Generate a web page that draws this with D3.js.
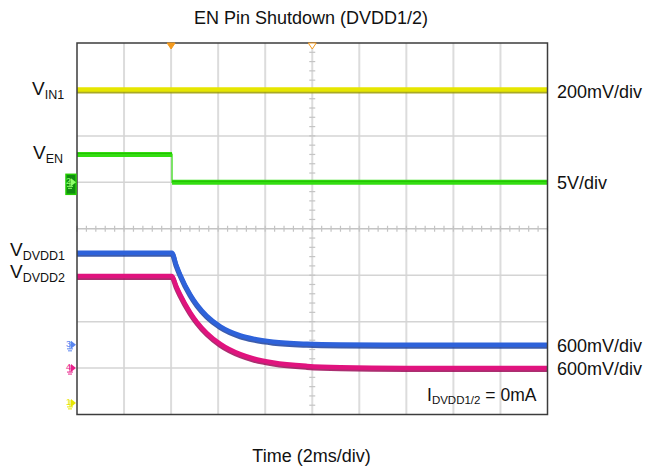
<!DOCTYPE html>
<html><head><meta charset="utf-8">
<script src="https://cdn.jsdelivr.net/npm/d3@7"></script>
<style>
html,body{margin:0;padding:0;background:#fff;}
text{font-family:"Liberation Sans",Arial,sans-serif;fill:#111;}
</style></head>
<body><svg id="c" width="645" height="469"></svg>
<script>
// ---- data (time in ms, voltages in V) ----
const title = "EN Pin Shutdown (DVDD1/2)";
const xLabel = "Time (2ms/div)";
const triggerTime = 4;
const vinTime = [0, 20];
const vinValues = [1.35, 1.35];
const enTime = [0, 4.04, 4.04, 20];
const enValues = [3.0, 3.0, 0, 0];
const dvddTime = [0, 4.04, 4.21, 4.38, 4.81, 5.1, 5.52, 6.09, 6.94, 7.5, 8.34, 9.78, 11.2, 14, 20];
const dvdd1Values = [1.19, 1.19, 1.041, 0.912, 0.653, 0.52, 0.375, 0.24, 0.123, 0.08, 0.041, 0.013, 0.004, 0, 0];
const dvdd2Values = [1.19, 1.19, 1.065, 0.953, 0.72, 0.595, 0.452, 0.312, 0.179, 0.124, 0.072, 0.028, 0.011, 0.002, 0];
const channelNames = ["IN1", "EN", "DVDD1", "DVDD2"];
const channelScales = ["200mV/div", "5V/div", "600mV/div", "600mV/div"];
const voltsPerDiv = [0.2, 5, 0.6, 0.6];
const groundDiv = [-3.75, 1.0, -2.5, -3.0];
const loadNote = ["I", "DVDD1/2", " = 0mA"];

// ---- layout ----
const svg = d3.select("#c");
const L = 77, R = 547.5, T = 43, B = 414.5;
const x = d3.scaleLinear().domain([0, 20]).range([L, R]);
const y = d3.scaleLinear().domain([-4, 4]).range([B, T]);
const colors = ["#e6e600", "#33dd11", "#2e62da", "#e0137e"];
const darks = ["#9a9a00", "#1f9e08", "#1b3f9e", "#9c0a57"];

// grid
const g = svg.append("g");
d3.range(1, 10).forEach(i => {
  g.append("line").attr("x1", x(i*2)).attr("x2", x(i*2)).attr("y1", T).attr("y2", B)
    .attr("stroke", "#dcdcdc").attr("stroke-width", 2);
});
d3.range(-3, 4).forEach(i => {
  g.append("line").attr("x1", L).attr("x2", R).attr("y1", y(i)).attr("y2", y(i))
    .attr("stroke", i === 0 ? "#c4c4c4" : "#d4d4d4").attr("stroke-width", 1.5);
});
// minor ticks on centre axes
d3.range(0, 50.001, 1).forEach(k => {
  const t = k * 0.4;
  g.append("line").attr("x1", x(t)).attr("x2", x(t)).attr("y1", y(0) - 3).attr("y2", y(0) + 3)
    .attr("stroke", "#c4c4c4").attr("stroke-width", 1.2);
});
d3.range(-4, 4.001, 0.2).forEach(d => {
  g.append("line").attr("x1", x(10) - 3).attr("x2", x(10) + 3).attr("y1", y(d)).attr("y2", y(d))
    .attr("stroke", "#c4c4c4").attr("stroke-width", 1.2);
});

// traces
const traces = [
  [vinTime, vinValues], [enTime, enValues], [dvddTime, dvdd1Values], [dvddTime, dvdd2Values]
];
svg.append("clipPath").attr("id", "pc").append("rect")
  .attr("x", L).attr("y", T).attr("width", R - L).attr("height", B - T);
const tg = svg.append("g").attr("clip-path", "url(#pc)");
traces.forEach((tr, ci) => {
  const pts = tr[0].map((t, i) => [t, groundDiv[ci] + tr[1][i] / voltsPerDiv[ci]]);
  const curve = ci >= 2 ? d3.curveMonotoneX : d3.curveLinear;
  const line = d3.line().x(d => x(d[0])).y(d => y(d[1])).curve(curve);
  if (ci !== 1) {
    tg.append("path").attr("d", line(pts)).attr("fill", "none")
      .attr("stroke", darks[ci]).attr("stroke-width", 5)
      .attr("transform", "translate(0,1.5)").attr("opacity", 0.85);
  }
  tg.append("path").attr("d", line(pts)).attr("fill", "none")
    .attr("stroke", colors[ci]).attr("stroke-width", ci === 1 ? 1.2 : 4.5);
  if (ci === 1) {
    const segs = [[0, 4.04, enValues[0]], [4.04, 20, enValues[3]]];
    segs.forEach(s => {
      const yy = y(groundDiv[ci] + s[2] / voltsPerDiv[ci]);
      tg.append("line").attr("x1", x(s[0])).attr("x2", x(s[1])).attr("y1", yy).attr("y2", yy)
        .attr("stroke", colors[ci]).attr("stroke-width", 5);
      tg.append("line").attr("x1", x(s[0])).attr("x2", x(s[1])).attr("y1", yy - 1).attr("y2", yy - 1)
        .attr("stroke", "#22c000").attr("stroke-width", 1);
    });
  }
});

// frame
svg.append("rect").attr("x", L).attr("y", T).attr("width", R - L).attr("height", B - T)
  .attr("fill", "none").attr("stroke", "#3c3c3c").attr("stroke-width", 1.5);

// trigger markers
const tri = (cx, filled) => svg.append("path")
  .attr("d", `M${cx - 4},${T} L${cx + 4},${T} L${cx},${T + 6} Z`)
  .attr("fill", filled ? "#f39a1e" : "#fff").attr("stroke", "#f39a1e").attr("stroke-width", 1);
tri(x(triggerTime), true);
tri(x(10), false);

// channel ground markers
const markerNums = ["1", "2", "3", "4"];
const markerColors = ["#e6e600", "#22cc00", "#5a86f0", "#e8218a"];
groundDiv.forEach((gd, ci) => {
  const yy = y(gd);
  const mg = svg.append("g");
  if (ci === 1) {
    mg.append("rect").attr("x", 66).attr("y", yy - 8).attr("width", 10).attr("height", 20)
      .attr("fill", "#118a11").attr("stroke", "#22cc00").attr("stroke-width", 1.5);
  }
  const c = ci === 1 ? "#8fff6a" : markerColors[ci];
  mg.append("text").attr("x", 66).attr("y", yy + 2).attr("font-size", 9).style("fill", c).text(markerNums[ci]);
  mg.append("path").attr("d", `M71,${yy - 4} L76,${yy} L71,${yy + 4} Z`).attr("fill", c);
  mg.append("line").attr("x1", 70).attr("x2", 70).attr("y1", yy - 3).attr("y2", yy + 4).attr("stroke", c).attr("stroke-width", 1);
  mg.append("line").attr("x1", 67).attr("x2", 73).attr("y1", yy + 4).attr("y2", yy + 4).attr("stroke", c).attr("stroke-width", 1);
  mg.append("line").attr("x1", 68).attr("x2", 72).attr("y1", yy + 6).attr("y2", yy + 6).attr("stroke", c).attr("stroke-width", 1);
});

// title & axis label
svg.append("text").attr("x", 311).attr("y", 24).attr("text-anchor", "middle").attr("font-size", 18).text(title);
svg.append("text").attr("x", 311.5).attr("y", 462).attr("text-anchor", "middle").attr("font-size", 18).text(xLabel);

// left channel labels
const leftPos = [[32, 95], [33, 159], [10, 256], [10, 278]];
channelNames.forEach((n, i) => {
  const t = svg.append("text").attr("x", leftPos[i][0]).attr("y", leftPos[i][1]).attr("font-size", 19);
  t.append("tspan").text("V");
  t.append("tspan").attr("font-size", 12.5).attr("dy", 4).text(n);
});

// right scale labels
const rightY = [98, 189, 352, 375];
channelScales.forEach((s, i) => {
  svg.append("text").attr("x", 557).attr("y", rightY[i]).attr("font-size", 18).text(s);
});

// load note
const nt = svg.append("text").attr("x", 427).attr("y", 401).attr("font-size", 17.5);
nt.append("tspan").text(loadNote[0]);
nt.append("tspan").attr("font-size", 11.5).attr("dy", 3).text(loadNote[1]);
nt.append("tspan").attr("dy", -3).text(loadNote[2]);
</script></body></html>
